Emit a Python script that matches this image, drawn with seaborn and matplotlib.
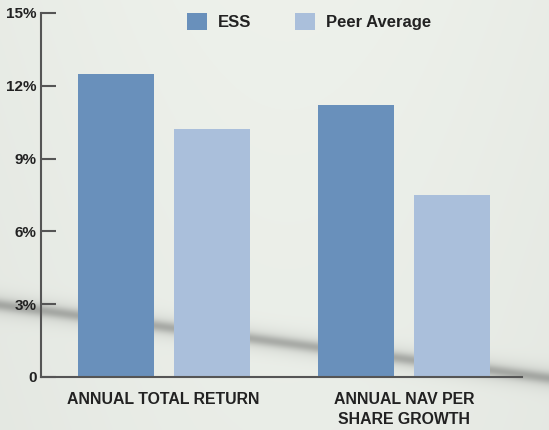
import numpy as np
import pandas as pd
import matplotlib
matplotlib.use("Agg")
import matplotlib.pyplot as plt
import seaborn as sns

# Data
categories = ["ANNUAL TOTAL RETURN", "ANNUAL NAV PER\nSHARE GROWTH"]
series = ["ESS", "Peer Average"]
ess_values = [12.5, 11.2]
peer_values = [10.2, 7.5]
y_ticks = [0, 3, 6, 9, 12, 15]
y_tick_labels = ["0", "3%", "6%", "9%", "12%", "15%"]

df = pd.DataFrame({
    "category": categories * 2,
    "series": [series[0]] * 2 + [series[1]] * 2,
    "value": ess_values + peer_values,
})

sns.set_theme(style="white")
plt.rcParams["font.family"] = ["Liberation Sans", "DejaVu Sans"]

fig = plt.figure(figsize=(5.49, 4.30), dpi=100)

# soft grey photo-like background
bg = fig.add_axes([0, 0, 1, 1], zorder=-10)
yy, xx = np.mgrid[0:1:430j, 0:1:549j]
base = 0.925 + 0.02 * np.sin(xx * 3.0) - 0.015 * yy
# diagonal grey band
d = (yy - (0.71 + 0.17 * xx))
band = 0.18 * np.exp(-(d / 0.013) ** 2) + 0.08 * np.exp(-(d / 0.03) ** 2)
img = np.clip(base - band, 0, 1)
rgb = np.dstack([img * 0.985, img, img * 0.975])
bg.imshow(rgb, aspect="auto", extent=[0, 1, 0, 1], origin="upper")
bg.axis("off")

ax = fig.add_axes([41 / 549, (430 - 377) / 430, (522 - 41) / 549, (377 - 13) / 430])
ax.patch.set_alpha(0)

palette = {"ESS": "#6990bb", "Peer Average": "#aabfdb"}
sns.barplot(data=df, x="category", y="value", hue="series", order=categories,
            hue_order=series, palette=palette, width=0.8, gap=0.21,
            saturation=1, ax=ax, edgecolor="none")

ax.set_ylim(0, 15)
ax.set_xlim(-0.51, 1.49)
ax.set_yticks(y_ticks)
ax.set_yticklabels(y_tick_labels, fontsize=11, fontweight="bold", color="#222222")
ax.tick_params(axis="y", direction="in", length=11, width=1.5, color="#555555", pad=3, left=True)
ax.tick_params(axis="x", length=0, pad=11)
for lbl in ax.get_xticklabels():
    lbl.set_fontsize(11.4)
    lbl.set_fontweight("bold")
    lbl.set_color("#222222")
    lbl.set_linespacing(1.4)
ax.set_xlabel("")
ax.set_ylabel("")

for side in ["top", "right"]:
    ax.spines[side].set_visible(False)
for side in ["left", "bottom"]:
    ax.spines[side].set_color("#555555")
    ax.spines[side].set_linewidth(1.5)

leg = ax.legend(loc="upper left", bbox_to_anchor=((187 - 41) / 481, 1.0), ncol=2, frameon=False,
                borderaxespad=0, borderpad=0,
                handlelength=1.2, handleheight=1.2, columnspacing=2.6, handletextpad=0.66,
                prop={"weight": "bold", "size": 12})
for t in leg.get_texts():
    t.set_color("#222222")

fig.savefig("out.png", dpi=100)
